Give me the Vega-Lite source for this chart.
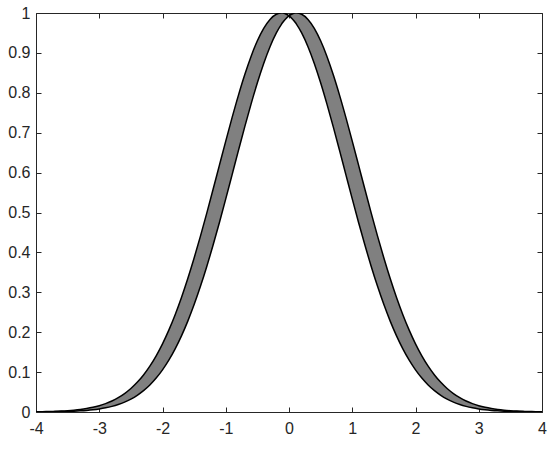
{
  "$schema": "https://vega.github.io/schema/vega-lite/v6.json",
  "width": 506,
  "height": 399,
  "autosize": "none",
  "padding": {"left": 36, "top": 13, "right": 8, "bottom": 37},
  "background": "white",
  "config": {
    "view": {"stroke": null},
    "axis": {
      "grid": false,
      "domainColor": "#262626",
      "domainWidth": 1,
      "tickColor": "#262626",
      "tickWidth": 1,
      "tickSize": -5,
      "labelColor": "#262626",
      "labelFont": "Liberation Sans",
      "labelFontSize": 16,
      "title": null
    }
  },
  "data": {
    "values": [
      {"x": -4.0, "y1": 0.00054, "y2": 0.00021},
      {"x": -3.9, "y1": 0.00079, "y2": 0.00031},
      {"x": -3.8, "y1": 0.00115, "y2": 0.00046},
      {"x": -3.7, "y1": 0.00165, "y2": 0.00068},
      {"x": -3.6, "y1": 0.00234, "y2": 0.00099},
      {"x": -3.5, "y1": 0.00330, "y2": 0.00143},
      {"x": -3.4, "y1": 0.00461, "y2": 0.00204},
      {"x": -3.3, "y1": 0.00637, "y2": 0.00289},
      {"x": -3.2, "y1": 0.00871, "y2": 0.00404},
      {"x": -3.1, "y1": 0.01179, "y2": 0.00561},
      {"x": -3.0, "y1": 0.01581, "y2": 0.00770},
      {"x": -2.9, "y1": 0.02098, "y2": 0.01046},
      {"x": -2.8, "y1": 0.02756, "y2": 0.01408},
      {"x": -2.7, "y1": 0.03586, "y2": 0.01875},
      {"x": -2.6, "y1": 0.04618, "y2": 0.02474},
      {"x": -2.5, "y1": 0.05888, "y2": 0.03231},
      {"x": -2.4, "y1": 0.07435, "y2": 0.04178},
      {"x": -2.3, "y1": 0.09293, "y2": 0.05349},
      {"x": -2.2, "y1": 0.11496, "y2": 0.06782},
      {"x": -2.1, "y1": 0.14082, "y2": 0.08510},
      {"x": -2.0, "y1": 0.17082, "y2": 0.10569},
      {"x": -1.9, "y1": 0.20510, "y2": 0.13000},
      {"x": -1.8, "y1": 0.24385, "y2": 0.15831},
      {"x": -1.7, "y1": 0.28702, "y2": 0.19086},
      {"x": -1.6, "y1": 0.33447, "y2": 0.22782},
      {"x": -1.5, "y1": 0.38590, "y2": 0.26922},
      {"x": -1.4, "y1": 0.44078, "y2": 0.31500},
      {"x": -1.3, "y1": 0.49848, "y2": 0.36489},
      {"x": -1.2, "y1": 0.55811, "y2": 0.41845},
      {"x": -1.1, "y1": 0.61866, "y2": 0.47511},
      {"x": -1.0, "y1": 0.67895, "y2": 0.53408},
      {"x": -0.9, "y1": 0.73771, "y2": 0.59440},
      {"x": -0.8, "y1": 0.79358, "y2": 0.65494},
      {"x": -0.7, "y1": 0.84519, "y2": 0.71448},
      {"x": -0.6, "y1": 0.89119, "y2": 0.77167},
      {"x": -0.5, "y1": 0.93035, "y2": 0.82514},
      {"x": -0.4, "y1": 0.96156, "y2": 0.87354},
      {"x": -0.3, "y1": 0.98393, "y2": 0.91558},
      {"x": -0.2, "y1": 0.99681, "y2": 0.95009},
      {"x": -0.12, "y1": 1.0, "y2": 0.97161},
      {"x": -0.1, "y1": 0.99980, "y2": 0.97609},
      {"x": -0.05, "y1": 0.99755, "y2": 0.98565},
      {"x": 0.0, "y1": 0.99283, "y2": 0.99283},
      {"x": 0.05, "y1": 0.98565, "y2": 0.99755},
      {"x": 0.1, "y1": 0.97609, "y2": 0.99980},
      {"x": 0.12, "y1": 0.97161, "y2": 1.0},
      {"x": 0.2, "y1": 0.95009, "y2": 0.99681},
      {"x": 0.3, "y1": 0.91558, "y2": 0.98393},
      {"x": 0.4, "y1": 0.87354, "y2": 0.96156},
      {"x": 0.5, "y1": 0.82514, "y2": 0.93035},
      {"x": 0.6, "y1": 0.77167, "y2": 0.89119},
      {"x": 0.7, "y1": 0.71448, "y2": 0.84519},
      {"x": 0.8, "y1": 0.65494, "y2": 0.79358},
      {"x": 0.9, "y1": 0.59440, "y2": 0.73771},
      {"x": 1.0, "y1": 0.53408, "y2": 0.67895},
      {"x": 1.1, "y1": 0.47511, "y2": 0.61866},
      {"x": 1.2, "y1": 0.41845, "y2": 0.55811},
      {"x": 1.3, "y1": 0.36489, "y2": 0.49848},
      {"x": 1.4, "y1": 0.31500, "y2": 0.44078},
      {"x": 1.5, "y1": 0.26922, "y2": 0.38590},
      {"x": 1.6, "y1": 0.22782, "y2": 0.33447},
      {"x": 1.7, "y1": 0.19086, "y2": 0.28702},
      {"x": 1.8, "y1": 0.15831, "y2": 0.24385},
      {"x": 1.9, "y1": 0.13000, "y2": 0.20510},
      {"x": 2.0, "y1": 0.10569, "y2": 0.17082},
      {"x": 2.1, "y1": 0.08510, "y2": 0.14082},
      {"x": 2.2, "y1": 0.06782, "y2": 0.11496},
      {"x": 2.3, "y1": 0.05349, "y2": 0.09293},
      {"x": 2.4, "y1": 0.04178, "y2": 0.07435},
      {"x": 2.5, "y1": 0.03231, "y2": 0.05888},
      {"x": 2.6, "y1": 0.02474, "y2": 0.04618},
      {"x": 2.7, "y1": 0.01875, "y2": 0.03586},
      {"x": 2.8, "y1": 0.01408, "y2": 0.02756},
      {"x": 2.9, "y1": 0.01046, "y2": 0.02098},
      {"x": 3.0, "y1": 0.00770, "y2": 0.01581},
      {"x": 3.1, "y1": 0.00561, "y2": 0.01179},
      {"x": 3.2, "y1": 0.00404, "y2": 0.00871},
      {"x": 3.3, "y1": 0.00289, "y2": 0.00637},
      {"x": 3.4, "y1": 0.00204, "y2": 0.00461},
      {"x": 3.5, "y1": 0.00143, "y2": 0.00330},
      {"x": 3.6, "y1": 0.00099, "y2": 0.00234},
      {"x": 3.7, "y1": 0.00068, "y2": 0.00165},
      {"x": 3.8, "y1": 0.00046, "y2": 0.00115},
      {"x": 3.9, "y1": 0.00031, "y2": 0.00079},
      {"x": 4.0, "y1": 0.00021, "y2": 0.00054}
    ]
  },
  "layer": [
    {
      "mark": {"type": "area", "color": "#808080", "interpolate": "monotone", "clip": true},
      "encoding": {
        "x": {"field": "x", "type": "quantitative", "scale": {"domain": [-4, 4], "nice": false},
              "axis": {"orient": "bottom", "values": [-4, -3, -2, -1, 0, 1, 2, 3, 4], "labelPadding": 13, "labelFlush": false,
                       "labelExpr": "datum.value < 0 ? '-' + format(-datum.value, 'd') : format(datum.value, 'd')"}},
        "y": {"field": "y1", "type": "quantitative", "scale": {"domain": [0, 1], "nice": false},
              "axis": {"orient": "left", "values": [0, 0.1, 0.2, 0.3, 0.4, 0.5, 0.6, 0.7, 0.8, 0.9, 1], "format": "~g", "labelPadding": 11}},
        "y2": {"field": "y2"}
      }
    },
    {
      "mark": {"type": "line", "color": "black", "strokeWidth": 1.5, "interpolate": "monotone", "clip": true},
      "encoding": {
        "x": {"field": "x", "type": "quantitative",
              "axis": {"orient": "top", "values": [-4, -3, -2, -1, 0, 1, 2, 3, 4], "labels": false}},
        "y": {"field": "y1", "type": "quantitative",
              "axis": {"orient": "right", "values": [0, 0.1, 0.2, 0.3, 0.4, 0.5, 0.6, 0.7, 0.8, 0.9, 1], "labels": false}}
      }
    },
    {
      "mark": {"type": "line", "color": "black", "strokeWidth": 1.5, "interpolate": "monotone", "clip": true},
      "encoding": {
        "x": {"field": "x", "type": "quantitative", "axis": null},
        "y": {"field": "y2", "type": "quantitative", "axis": null}
      }
    }
  ],
  "resolve": {"axis": {"x": "independent", "y": "independent"}}
}
